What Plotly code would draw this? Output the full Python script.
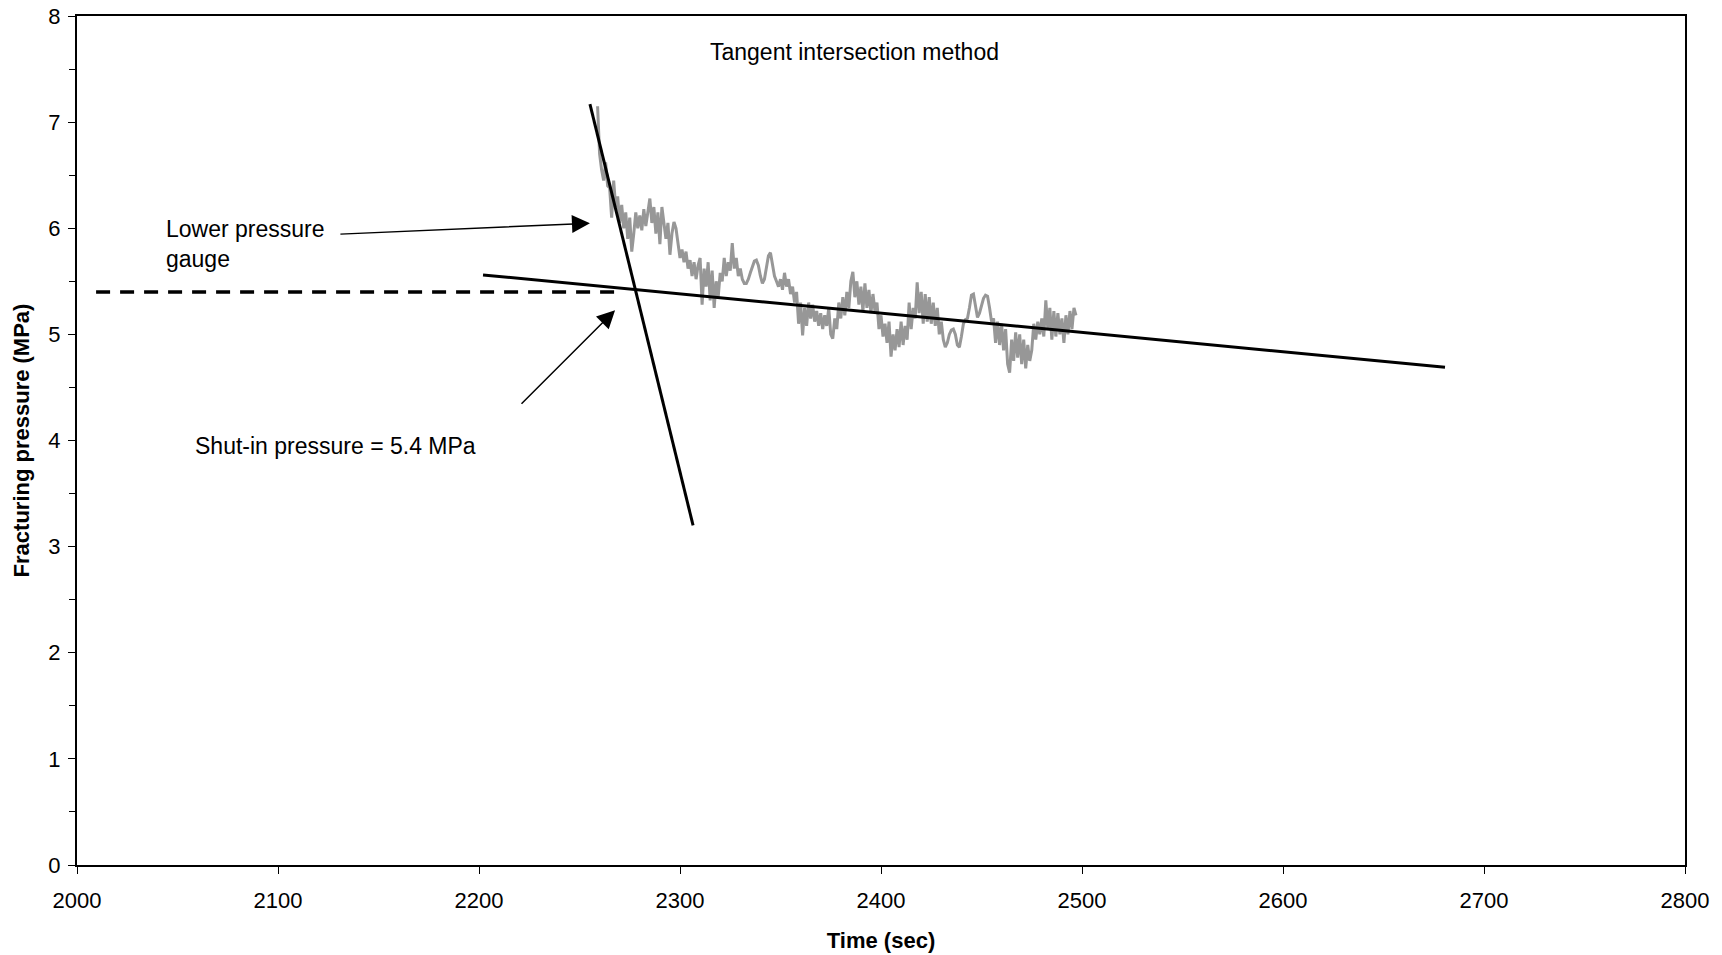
import plotly.graph_objects as go

# Lower pressure gauge record after shut-in, one reading per second
time_start = 2259
pressure_mpa = [
    7.15, 6.70, 6.55, 6.45, 6.62, 6.40, 6.38, 6.10, 6.45, 6.20,   # 2259-2268
    6.30, 6.05, 6.22, 6.00, 6.15, 5.90, 6.10, 5.78, 5.95, 6.15,   # 2269-2278
    6.00, 6.12, 5.98, 6.18, 6.02, 6.15, 6.28, 6.05, 6.20, 5.95,   # 2279-2288
    6.15, 5.85, 6.20, 6.05, 5.90, 6.05, 5.75, 5.95, 6.06, 6.00,   # 2289-2298
    5.85, 5.72, 5.80, 5.68, 5.78, 5.62, 5.70, 5.55, 5.68, 5.52,   # 2299-2308
    5.65, 5.72, 5.28, 5.62, 5.45, 5.68, 5.32, 5.60, 5.25, 5.50,   # 2309-2318
    5.35, 5.58, 5.50, 5.72, 5.55, 5.68, 5.60, 5.86, 5.62, 5.72,   # 2319-2328
    5.55, 5.62, 5.52, 5.48, 5.48, 5.52, 5.58, 5.64, 5.69, 5.70,   # 2329-2338
    5.65, 5.55, 5.48, 5.52, 5.62, 5.74, 5.77, 5.65, 5.55, 5.50,   # 2339-2348
    5.45, 5.52, 5.42, 5.58, 5.45, 5.52, 5.38, 5.45, 5.30, 5.40,   # 2349-2358
    5.10, 5.30, 4.99, 5.25, 5.08, 5.30, 5.15, 5.28, 5.12, 5.22,   # 2359-2368
    5.08, 5.20, 5.05, 5.18, 5.08, 5.25, 5.00, 4.96, 5.15, 5.05,   # 2369-2378
    5.30, 5.15, 5.35, 5.18, 5.40, 5.25, 5.50, 5.59, 5.35, 5.50,   # 2379-2388
    5.28, 5.45, 5.22, 5.48, 5.25, 5.42, 5.20, 5.38, 5.22, 5.30,   # 2389-2398
    5.05, 5.18, 4.98, 5.10, 4.92, 5.12, 4.79, 5.00, 4.85, 5.05,   # 2399-2408
    4.88, 5.12, 4.90, 5.08, 4.95, 5.30, 5.05, 5.25, 5.15, 5.49,   # 2409-2418
    5.20, 5.40, 5.10, 5.38, 5.12, 5.35, 5.10, 5.30, 5.08, 5.25,   # 2419-2428
    5.00, 5.12, 4.95, 4.88, 4.92, 5.00, 5.04, 5.05, 5.00, 4.90,   # 2429-2438
    4.88, 4.98, 5.10, 5.14, 5.15, 5.25, 5.37, 5.38, 5.25, 5.16,   # 2439-2448
    5.20, 5.28, 5.34, 5.37, 5.36, 5.25, 5.12, 5.15, 4.92, 5.12,   # 2449-2458
    4.90, 5.10, 4.85, 5.05, 4.72, 4.64, 4.95, 4.75, 5.02, 4.78,   # 2459-2468
    5.00, 4.72, 4.95, 4.68, 4.90, 4.75, 4.85, 5.10, 4.95, 5.12,   # 2469-2478
    5.00, 5.15, 4.98, 5.32, 5.05, 5.25, 4.95, 5.22, 4.98, 5.20,   # 2479-2488
    5.00, 5.15, 4.92, 5.18, 5.00, 5.22, 5.05, 5.25, 5.18,         # 2489-2497
]
time_s = [time_start + i for i in range(len(pressure_mpa))]

# Tangent drawn to the early (fast) decline
steep_tangent_t = [2255.2, 2306.5]
steep_tangent_p = [7.17, 3.20]
# Tangent drawn to the late (slow) decline
shallow_tangent_t = [2202.0, 2680.6]
shallow_tangent_p = [5.56, 4.69]
# Shut-in pressure read at the tangent intersection
shut_in_pressure = 5.4
shut_in_t = [2009.5, 2268.7]

x_ticks = [2000, 2100, 2200, 2300, 2400, 2500, 2600, 2700, 2800]
y_ticks = [0, 1, 2, 3, 4, 5, 6, 7, 8]

FONT = "Liberation Sans, Arial, sans-serif"
FS = 22
ANN_FS = 23

fig = go.Figure()

fig.add_trace(go.Scatter(
    x=time_s, y=pressure_mpa, mode="lines",
    line=dict(color="#979797", width=3),
    showlegend=False, hoverinfo="skip",
))
fig.add_trace(go.Scatter(
    x=steep_tangent_t, y=steep_tangent_p, mode="lines",
    line=dict(color="black", width=3), showlegend=False,
))
fig.add_trace(go.Scatter(
    x=shallow_tangent_t, y=shallow_tangent_p, mode="lines",
    line=dict(color="black", width=3), showlegend=False,
))
fig.add_trace(go.Scatter(
    x=shut_in_t, y=[shut_in_pressure, shut_in_pressure], mode="lines",
    line=dict(color="black", width=3.5, dash="14px,10px"), showlegend=False,
))

text_font = dict(family=FONT, size=ANN_FS, color="black")

fig.add_annotation(
    x=2387, y=7.66, xref="x", yref="y", text="Tangent intersection method",
    showarrow=False, xanchor="center", yanchor="middle", font=text_font,
)
fig.add_annotation(
    x=2043.3, y=5.854, xref="x", yref="y", text="Lower pressure<br>gauge",
    showarrow=False, xanchor="left", yanchor="middle", align="left", font=text_font,
)
fig.add_annotation(
    x=2057.7, y=3.947, xref="x", yref="y",
    text=f"Shut-in pressure = {shut_in_pressure} MPa",
    showarrow=False, xanchor="left", yanchor="middle", font=text_font,
)
# Arrow pointing at the gauge record
fig.add_annotation(
    x=2255.2, y=6.047, xref="x", yref="y",
    ax=2130.3, ay=5.944, axref="x", ayref="y",
    text="", showarrow=True, arrowhead=2, arrowsize=2.4, arrowwidth=1.5,
    arrowcolor="black", standoff=0,
)
# Arrow pointing at the shut-in level
fig.add_annotation(
    x=2267.7, y=5.228, xref="x", yref="y",
    ax=2220.4, ay=4.333, axref="x", ayref="y",
    text="", showarrow=True, arrowhead=2, arrowsize=2.4, arrowwidth=1.5,
    arrowcolor="black", standoff=0,
)

axis_common = dict(
    showline=True, linecolor="black", linewidth=2, mirror=True,
    showgrid=False, zeroline=False, automargin=False,
    ticks="outside", ticklen=7, tickwidth=1, tickcolor="black",
    tickfont=dict(family=FONT, size=FS, color="black"),
)

fig.update_xaxes(
    range=[2000, 2800], tickvals=x_ticks, ticktext=[str(v) for v in x_ticks],
    title=dict(text="<b>Time (sec)</b>", font=dict(family=FONT, size=FS, color="black"),
               standoff=20),
    ticklabelstandoff=8,
    **axis_common,
)
fig.update_yaxes(
    range=[0, 8], tickvals=y_ticks, ticktext=[str(v) for v in y_ticks],
    minor=dict(ticks="outside", ticklen=6, tickwidth=1, tickcolor="black",
               dtick=0.5, showgrid=False),
    title=dict(text="<b>Fracturing pressure (MPa)</b>",
               font=dict(family=FONT, size=FS, color="black"), standoff=13),
    ticklabelstandoff=3,
    **axis_common,
)

fig.update_layout(
    width=1722, height=955,
    margin=dict(l=77, r=37, t=16, b=90),
    paper_bgcolor="white", plot_bgcolor="white",
    font=dict(family=FONT, size=FS, color="black"),
    showlegend=False,
)

fig.write_html("out.html")
